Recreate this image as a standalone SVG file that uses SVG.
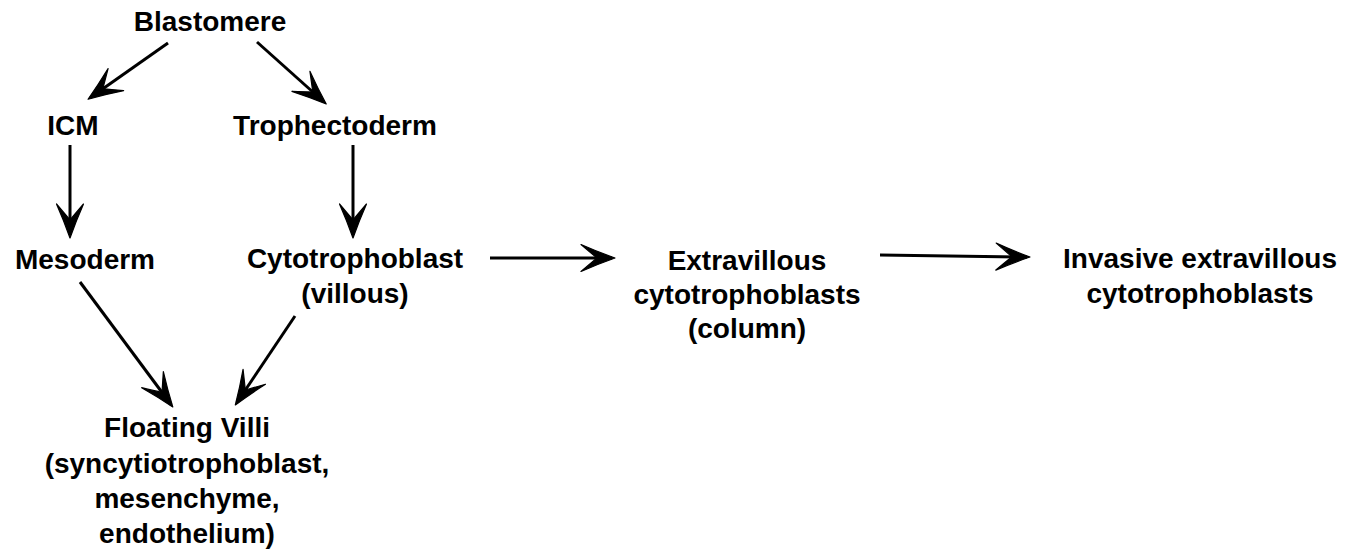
<svg xmlns="http://www.w3.org/2000/svg" width="1352" height="556" viewBox="0 0 1352 556">
<style>
text{font-family:"Liberation Sans",Arial,sans-serif;font-weight:bold;font-size:28px;fill:#000;text-anchor:middle}
.c{stroke:#000;stroke-width:3;fill:none;marker-end:url(#ah)}
</style>
<defs>
<marker id="ah" markerUnits="userSpaceOnUse" viewBox="-36 -16 42 32" refX="0" refY="0" markerWidth="42" markerHeight="32" orient="auto">
<path d="M3,0 Q-14,-6 -31,-13.5 Q-21,-5 -15,0 Q-21,5 -31,13.5 Q-14,6 3,0 Z" fill="#000" stroke="#000" stroke-width="1.2" stroke-linejoin="round"/>
</marker>
</defs>
<rect width="1352" height="556" fill="#fff"/>
<g id="connectors">
<line class="c" x1="168" y1="43" x2="90.5" y2="97.5"/>
<line class="c" x1="257" y1="42" x2="324" y2="102"/>
<line class="c" x1="70" y1="145" x2="70" y2="235"/>
<line class="c" x1="353" y1="145" x2="353" y2="235"/>
<line class="c" x1="80" y1="282" x2="171" y2="404.5"/>
<line class="c" x1="295" y1="316" x2="237" y2="402.5"/>
<line class="c" x1="490" y1="258" x2="612" y2="258"/>
<line class="c" x1="880" y1="255" x2="1027" y2="257"/>
</g>
<g id="blastomere"><text x="210" y="31">Blastomere</text></g>
<g id="icm"><text x="73" y="135">ICM</text></g>
<g id="trophectoderm"><text x="335" y="135">Trophectoderm</text></g>
<g id="mesoderm"><text x="85" y="269">Mesoderm</text></g>
<g id="cytotrophoblast"><text x="355" y="268">Cytotrophoblast</text><text x="355" y="303">(villous)</text></g>
<g id="extravillous"><text x="747" y="270">Extravillous</text><text x="747" y="304">cytotrophoblasts</text><text x="747" y="338">(column)</text></g>
<g id="invasive"><text x="1200" y="268">Invasive extravillous</text><text x="1200" y="303">cytotrophoblasts</text></g>
<g id="floating-villi"><text x="187" y="437">Floating Villi</text><text x="187" y="473">(syncytiotrophoblast,</text><text x="187" y="508">mesenchyme,</text><text x="187" y="543">endothelium)</text></g>
</svg>
